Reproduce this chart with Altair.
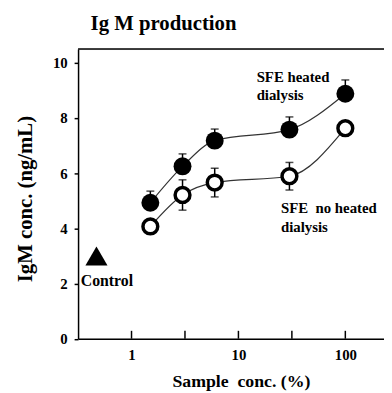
import altair as alt
import pandas as pd

# ---- data ----
conc = [1.5, 3, 6, 30, 100]
heated = [4.93, 6.25, 7.18, 7.58, 8.88]
heated_err = [0.42, 0.45, 0.42, 0.46, 0.50]
noheated = [4.07, 5.21, 5.66, 5.89, 7.63]
noheated_err = [0.0, 0.55, 0.52, 0.50, 0.0]
control_x = [0.47]
control_y = [3.0]
x_tick_values = [1, 3.1623, 10, 31.623, 100]
x_label_values = [1, 10, 100]
y_tick_values = [0, 2, 4, 6, 8, 10]

ann_text = ["SFE heated", "dialysis", "SFE\u00a0 no heated", "dialysis", "Control"]
ann_x = [14.8, 14.8, 25.0, 25.0, 0.335]
ann_y = [9.5, 8.85, 4.74, 4.06, 2.08]
ann_size = [15, 15, 15, 15, 16]

title_text = ["Ig M production"]

W, H = 310, 293.5
FONT = "Liberation Serif"

hdf = pd.DataFrame({"x": conc, "y": heated,
                    "hi": [a + b for a, b in zip(heated, heated_err)]})
ndf = pd.DataFrame({"x": conc, "y": noheated,
                    "lo": [a - b for a, b in zip(noheated, noheated_err)],
                    "hi": [a + b for a, b in zip(noheated, noheated_err)]})
ndf_err = ndf[[e > 0 for e in noheated_err]]
cdf = pd.DataFrame({"x": control_x, "y": control_y})
adf = pd.DataFrame({"t": ann_text, "x": ann_x, "y": ann_y, "s": ann_size})
tdf = pd.DataFrame({"x": x_tick_values})
ttl = pd.DataFrame({"t": title_text})

xscale = alt.Scale(type="log", domain=[0.31623, 230], nice=False)
yscale = alt.Scale(domain=[0, 10.5], nice=False)

xaxis = alt.Axis(values=x_label_values, format="~g", ticks=False, tickSize=0,
                 grid=False, labelPadding=9, labelFont=FONT, labelFontSize=15,
                 labelFontWeight="bold", labelColor="black", domainColor="black",
                 domainWidth=1.5, title="Sample\u00a0 conc. (%)", titleFont=FONT,
                 titleFontSize=18, titleFontWeight="bold", titleColor="black",
                 titleX=165, titleY=48.5, titleBaseline="alphabetic",
                 titleAlign="center", labelFlush=False)
yaxis = alt.Axis(values=y_tick_values, grid=False, tickSize=4, tickWidth=1.5,
                 tickColor="black", labelPadding=7, labelFont=FONT,
                 labelFontSize=15, labelFontWeight="bold", labelColor="black",
                 domainColor="black", domainWidth=1.5, title="IgM conc. (ng/mL)",
                 titleFont=FONT, titleFontSize=21, titleFontWeight="bold",
                 titleColor="black", titleX=-47, titleY=151.5,
                 titleBaseline="alphabetic", titleAlign="center", titleAngle=270,
                 labelFlush=False)

X = alt.X("x:Q", scale=xscale, axis=xaxis)
Y = alt.Y("y:Q", scale=yscale, axis=yaxis)
Xn = alt.X("x:Q", scale=xscale)

line_h = alt.Chart(hdf).mark_line(interpolate="monotone", color="#333",
                                  strokeWidth=1.2).encode(x=X, y=Y)
line_n = alt.Chart(ndf).mark_line(interpolate="monotone", color="#333",
                                  strokeWidth=1.2).encode(x=Xn, y="y:Q")

err_h = alt.Chart(hdf).mark_rule(color="black", strokeWidth=1.5).encode(
    x=Xn, y="y:Q", y2="hi:Q")
cap_h = alt.Chart(hdf).mark_tick(orient="horizontal", color="black", size=8,
                                 thickness=1.5).encode(x=Xn, y="hi:Q")
err_n = alt.Chart(ndf_err).mark_rule(color="black", strokeWidth=1.5).encode(
    x=Xn, y="lo:Q", y2="hi:Q")
cap_n_hi = alt.Chart(ndf_err).mark_tick(orient="horizontal", color="black",
                                        size=8, thickness=1.5).encode(x=Xn, y="hi:Q")
cap_n_lo = alt.Chart(ndf_err).mark_tick(orient="horizontal", color="black",
                                        size=8, thickness=1.5).encode(x=Xn, y="lo:Q")

pts_h = alt.Chart(hdf).mark_point(shape="circle", filled=True, color="black",
                                  opacity=1, size=330).encode(x=Xn, y="y:Q")
pts_n = alt.Chart(ndf).mark_point(shape="circle", filled=True, fill="white",
                                  stroke="black", strokeWidth=3.5, opacity=1,
                                  size=225).encode(x=Xn, y="y:Q")
ctrl = alt.Chart(cdf).mark_point(shape="triangle-up", filled=True, color="black",
                                 opacity=1, size=500).encode(x=Xn, y="y:Q")

ann = alt.Chart(adf).mark_text(align="left", baseline="middle", font=FONT,
                               fontWeight="bold", color="black").encode(
    x=Xn, y="y:Q", text="t:N", size=alt.Size("s:Q", scale=None, legend=None))

title = alt.Chart(ttl).mark_text(align="left", baseline="alphabetic", font=FONT,
                                 fontSize=21, fontWeight="bold",
                                 color="black").encode(
    x=alt.value(12.7), y=alt.value(-19), text="t:N")

xticks = alt.Chart(tdf).mark_rule(color="black", strokeWidth=1.5).encode(
    x=Xn, y=alt.value(H - 8), y2=alt.value(H))
topline = alt.Chart(tdf.head(1)).mark_rule(color="black", strokeWidth=1.5).encode(
    x=alt.value(0), x2=alt.value(W), y=alt.value(0))

chart = alt.layer(line_h, line_n, err_h, cap_h, err_n, cap_n_hi, cap_n_lo,
                  pts_h, pts_n, ctrl, ann, xticks, topline, title).properties(
    width=W, height=H,
    autosize=alt.AutoSizeParams(type="none"),
    padding={"left": 71, "top": 39, "right": 0, "bottom": 60},
).configure_view(stroke=None).configure(background="white")

chart.save("out.html", embed_options={"renderer": "svg", "actions": False})
